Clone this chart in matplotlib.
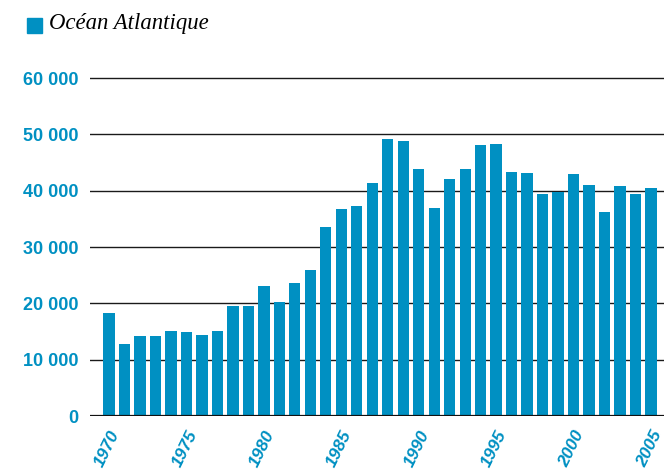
import matplotlib.pyplot as plt

years = list(range(1970, 2006))
catches = [18300, 12800, 14200, 14200, 15100, 14900, 14400, 15100, 19500, 19500,
           23000, 20200, 23600, 25900, 33600, 36800, 37300, 41400, 49200, 48900,
           43900, 36900, 42100, 43900, 48100, 48300, 43300, 43200, 39400, 39800,
           43000, 41000, 36200, 40900, 39400, 40500]
y_ticks = [0, 10000, 20000, 30000, 40000, 50000, 60000]
y_labels = ['0', '10 000', '20 000', '30 000', '40 000', '50 000', '60 000']
x_label_years = [1970, 1975, 1980, 1985, 1990, 1995, 2000, 2005]

blue = '#0090c2'

fig = plt.figure(figsize=(6.64, 4.73), dpi=100)
ax = fig.add_axes([0.1355, 0.1205, 0.8645, 0.7264])

x = [y - years[0] for y in years]
ax.bar(x, catches, width=0.73, color=blue, zorder=2)

for t in y_ticks[1:]:
    ax.axhline(t, color='#1a1a1a', lw=1.0, zorder=1)
ax.axhline(0, color='#111111', lw=1.6, zorder=3)

ax.set_xlim(-1.23, 35.84)
ax.set_ylim(0, 61000)

for s in ax.spines.values():
    s.set_visible(False)

ax.set_yticks(y_ticks)
ax.set_yticklabels(y_labels, color=blue, fontsize=13, fontweight='bold',
                   family='Liberation Sans')
ax.tick_params(axis='y', length=0, pad=8)

ax.set_xticks([y - years[0] for y in x_label_years])
ax.set_xticklabels([str(y) for y in x_label_years], rotation=64, ha='right',
                   rotation_mode='anchor', color=blue, fontsize=12.5,
                   fontweight='bold', fontstyle='italic', family='Liberation Sans')
ax.tick_params(axis='x', length=0, pad=9)

# légende
fig.patches.append(plt.Rectangle((27 / 664, 1 - 33 / 473), 15 / 664, 15 / 473,
                                 transform=fig.transFigure, color=blue))
fig.text(49 / 664, 1 - 24 / 473, 'Océan Atlantique', fontsize=16.4,
         fontstyle='italic', family='Liberation Serif', va='center', ha='left')

fig.savefig('out.png', dpi=100)
